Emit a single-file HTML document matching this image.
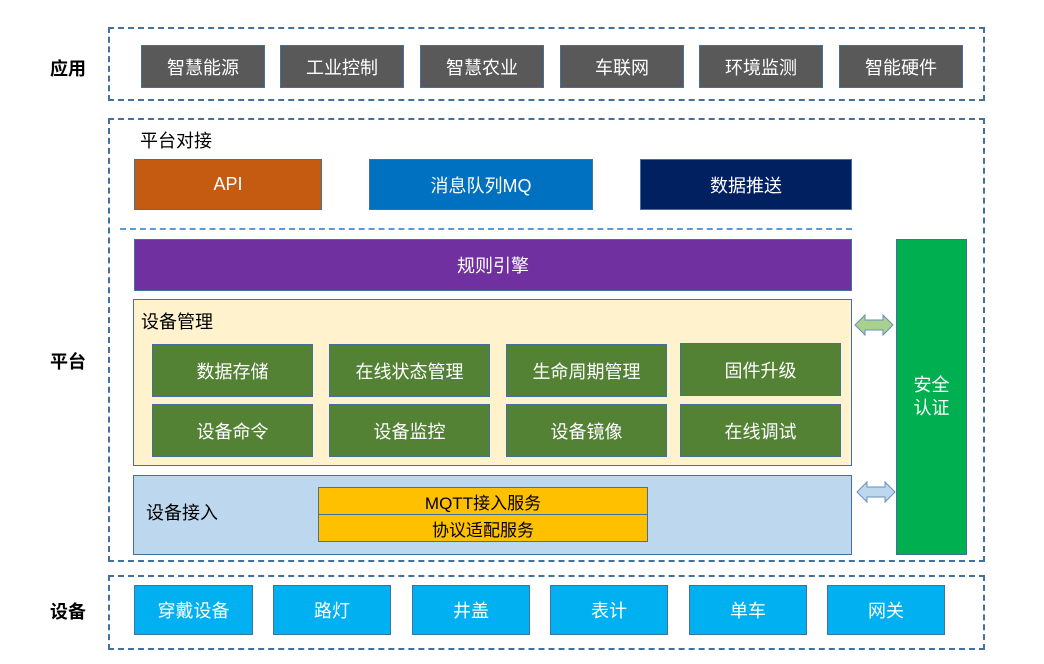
<!DOCTYPE html>
<html><head><meta charset="utf-8"><style>
body{margin:0;width:1044px;height:664px;background:#fff;position:relative;overflow:hidden;font-family:"Liberation Sans","Noto Sans CJK SC",sans-serif}
div{position:absolute;box-sizing:border-box}
.b{display:flex;align-items:center;justify-content:center;color:#fff;font-size:18px;border:1px solid #41719C}
.d{border:2px dashed #41719C}
.l{font-size:18px;font-weight:bold;color:#000}
.a{background:#595959}
.g{background:#548235}
.c{background:#00B0F0}
</style></head><body>
<div class="l" style="left:50px;top:55px">应用</div>
<div class="l" style="left:50px;top:348px">平台</div>
<div class="l" style="left:50px;top:598px">设备</div>

<div class="d" style="left:108px;top:27px;width:877px;height:74px"></div>
<div class="b a" style="left:141px;top:45px;width:124px;height:43px">智慧能源</div>
<div class="b a" style="left:280px;top:45px;width:124px;height:43px">工业控制</div>
<div class="b a" style="left:420px;top:45px;width:124px;height:43px">智慧农业</div>
<div class="b a" style="left:560px;top:45px;width:124px;height:43px">车联网</div>
<div class="b a" style="left:699px;top:45px;width:124px;height:43px">环境监测</div>
<div class="b a" style="left:839px;top:45px;width:124px;height:43px">智能硬件</div>

<div class="d" style="left:108px;top:118px;width:877px;height:444px"></div>
<div style="left:140px;top:127px;font-size:18px;color:#000">平台对接</div>
<div class="b" style="left:134px;top:159px;width:188px;height:51px;background:#C55A11">API</div>
<div class="b" style="left:369px;top:159px;width:224px;height:51px;background:#0070C0">消息队列MQ</div>
<div class="b" style="left:640px;top:159px;width:212px;height:51px;background:#002060">数据推送</div>
<div style="left:120px;top:228px;width:732px;height:0;border-top:2px dashed #5B9BD5"></div>
<div class="b" style="left:134px;top:239px;width:718px;height:52px;background:#7030A0">规则引擎</div>

<div style="left:133px;top:299px;width:719px;height:167px;background:#FFF2CC;border:1px solid #41719C"></div>
<div style="left:141px;top:308px;font-size:18px;color:#000">设备管理</div>
<div class="b g" style="left:152px;top:344px;width:161px;height:53px">数据存储</div>
<div class="b g" style="left:329px;top:344px;width:161px;height:53px">在线状态管理</div>
<div class="b g" style="left:506px;top:344px;width:161px;height:53px">生命周期管理</div>
<div class="b g" style="left:680px;top:343px;width:161px;height:53px">固件升级</div>
<div class="b g" style="left:152px;top:404px;width:161px;height:53px">设备命令</div>
<div class="b g" style="left:329px;top:404px;width:161px;height:53px">设备监控</div>
<div class="b g" style="left:506px;top:404px;width:161px;height:53px">设备镜像</div>
<div class="b g" style="left:680px;top:404px;width:161px;height:53px">在线调试</div>

<div style="left:133px;top:475px;width:719px;height:80px;background:#BDD7EE;border:1px solid #41719C"></div>
<div style="left:146px;top:499px;font-size:18px;color:#000">设备接入</div>
<div class="b" style="left:318px;top:487px;width:330px;height:28px;background:#FFC000;color:#000;font-size:17px">MQTT接入服务</div>
<div class="b" style="left:318px;top:514px;width:330px;height:28px;background:#FFC000;color:#000;font-size:17px">协议适配服务</div>

<div class="b" style="left:896px;top:239px;width:71px;height:316px;background:#00B050;text-align:center;line-height:23px">安全<br>认证</div>

<svg style="position:absolute;left:853px;top:313px" width="42" height="24"><polygon points="2,12 12,2 12,7 30,7 30,2 40,12 30,22 30,17 12,17 12,22" fill="#A9D18E" stroke="#6A8EBB" stroke-width="1"/></svg>
<svg style="position:absolute;left:855px;top:480px" width="42" height="24"><polygon points="2,12 12,2 12,7 30,7 30,2 40,12 30,22 30,17 12,17 12,22" fill="#BDD7EE" stroke="#6A8EBB" stroke-width="1"/></svg>

<div class="d" style="left:108px;top:575px;width:877px;height:75px"></div>
<div class="b c" style="left:134px;top:585px;width:119px;height:50px">穿戴设备</div>
<div class="b c" style="left:273px;top:585px;width:118px;height:50px">路灯</div>
<div class="b c" style="left:412px;top:585px;width:118px;height:50px">井盖</div>
<div class="b c" style="left:550px;top:585px;width:118px;height:50px">表计</div>
<div class="b c" style="left:689px;top:585px;width:118px;height:50px">单车</div>
<div class="b c" style="left:827px;top:585px;width:118px;height:50px">网关</div>
</body></html>
